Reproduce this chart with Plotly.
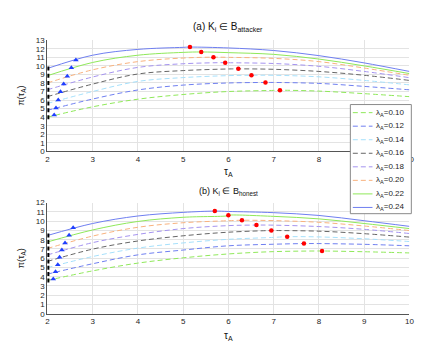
import plotly.graph_objects as go

W, H = 429, 350
_INK = "#262626"
_FONT = "Liberation Sans"

tau = [2, 3, 4, 5, 6, 7, 8, 9, 10]
lambdas = ["0.10", "0.12", "0.14", "0.16", "0.18", "0.20", "0.22", "0.24"]

# (a) K_i in B_attacker -- one list per lambda_A
top_010 = [4.00, 5.21, 6.10, 6.65, 7.00, 7.13, 7.05, 6.75, 6.40]
top_012 = [4.80, 6.12, 7.18, 7.75, 8.00, 8.06, 7.95, 7.60, 7.20]
top_014 = [5.60, 7.00, 8.18, 8.63, 8.86, 8.90, 8.72, 8.30, 7.78]
top_016 = [6.40, 7.87, 9.05, 9.45, 9.64, 9.60, 9.35, 8.90, 8.30]
top_018 = [7.20, 8.70, 9.82, 10.25, 10.37, 10.28, 9.95, 9.35, 8.62]
top_020 = [8.00, 9.54, 10.50, 10.92, 11.00, 10.88, 10.50, 9.75, 8.90]
top_022 = [8.85, 10.40, 11.25, 11.58, 11.55, 11.35, 10.80, 10.00, 9.10]
top_024 = [9.70, 11.25, 11.93, 12.17, 12.10, 11.80, 11.20, 10.35, 9.35]

top_sq_y = [4.0, 4.8, 5.6, 6.4, 7.2, 8.0, 8.85, 9.7]
top_tri_x = [2.15, 2.19, 2.24, 2.29, 2.36, 2.44, 2.53, 2.63]
top_tri_y = [4.24, 5.08, 6.02, 6.97, 7.88, 8.79, 9.77, 10.68]
top_max_x = [7.14, 6.82, 6.51, 6.22, 5.93, 5.67, 5.40, 5.15]
top_max_y = [7.15, 8.06, 8.90, 9.65, 10.38, 11.02, 11.63, 12.20]

# (b) K_i in B_honest
bot_010 = [3.60, 4.63, 5.47, 6.04, 6.46, 6.71, 6.78, 6.70, 6.57]
bot_012 = [4.28, 5.40, 6.36, 6.88, 7.34, 7.51, 7.58, 7.50, 7.34]
bot_014 = [4.98, 6.18, 7.09, 7.65, 8.04, 8.25, 8.30, 8.10, 7.80]
bot_016 = [5.65, 6.98, 7.86, 8.42, 8.81, 8.99, 8.92, 8.65, 8.28]
bot_018 = [6.35, 7.68, 8.57, 9.20, 9.52, 9.57, 9.42, 9.12, 8.67]
bot_020 = [7.05, 8.39, 9.34, 9.83, 10.05, 10.06, 9.88, 9.48, 8.99]
bot_022 = [7.75, 9.05, 9.97, 10.42, 10.60, 10.52, 10.25, 9.75, 9.20]
bot_024 = [8.45, 9.75, 10.56, 10.95, 11.05, 10.92, 10.62, 10.05, 9.44]

bot_sq_y = [3.6, 4.28, 4.98, 5.65, 6.35, 7.05, 7.75, 8.45]
bot_tri_x = [2.13, 2.18, 2.23, 2.27, 2.32, 2.39, 2.48, 2.57]
bot_tri_y = [3.75, 4.53, 5.30, 6.10, 6.88, 7.65, 8.49, 9.30]
bot_max_x = [8.07, 7.67, 7.30, 6.95, 6.62, 6.30, 6.00, 5.70]
bot_max_y = [6.78, 7.58, 8.32, 8.99, 9.58, 10.10, 10.63, 11.09]

top_curves = [top_010, top_012, top_014, top_016, top_018, top_020, top_022, top_024]
bot_curves = [bot_010, bot_012, bot_014, bot_016, bot_018, bot_020, bot_022, bot_024]

colors = ["#8fe85a", "#6f7ff0", "#a6e0fb", "#666666",
          "#a493ef", "#f8b27e", "#8fe85a", "#6f7ff0"]
dashes = ["5px,3px"] * 6 + ["solid", "solid"]


def px_x(p):
    return p / W


def px_y(p):
    return 1 - p / H


def _curve(ys, mx, my):
    # merge read-off grid with the maximum point so the curve passes through it
    pts = sorted(list(zip(tau, ys)) + [(mx, my)])
    return [p[0] for p in pts], [p[1] for p in pts]


fig = go.Figure()

panels = [
    ("x", "y", top_curves, top_sq_y, top_tri_x, top_tri_y, top_max_x, top_max_y),
    ("x2", "y2", bot_curves, bot_sq_y, bot_tri_x, bot_tri_y, bot_max_x, bot_max_y),
]
for xa, ya, curves, sq_y, tri_x, tri_y, mx, my in panels:
    for i, ys in enumerate(curves):
        cx, cy = _curve(ys, mx[i], my[i])
        fig.add_trace(go.Scatter(
            x=cx, y=cy, mode="lines", xaxis=xa, yaxis=ya,
            line=dict(color=colors[i], width=1, dash=dashes[i], shape="spline", smoothing=1.0),
            showlegend=False, hoverinfo="skip",
        ))
    fig.add_trace(go.Scatter(
        x=[2] * len(sq_y), y=sq_y, mode="markers", xaxis=xa, yaxis=ya,
        marker=dict(symbol="square", size=4, color="black"), showlegend=False,
    ))
    fig.add_trace(go.Scatter(
        x=tri_x, y=tri_y, mode="markers", xaxis=xa, yaxis=ya,
        marker=dict(symbol="triangle-up", size=5, color="#1f3fff"), showlegend=False,
    ))
    fig.add_trace(go.Scatter(
        x=mx, y=my, mode="markers", xaxis=xa, yaxis=ya,
        marker=dict(symbol="circle", size=4.5, color="#ff0000"), showlegend=False,
    ))

x_dom = [px_x(38), px_x(406)]
axis_common = dict(
    showgrid=True, gridcolor="#e3e3e3", gridwidth=1,
    showline=True, linecolor="#555555", linewidth=1, mirror=False,
    zeroline=False, ticks="", tickfont=dict(size=8, color=_INK, family=_FONT),
    dtick=1,
)

fig.update_layout(
    width=W, height=H,
    margin=dict(l=0, r=0, t=0, b=0),
    paper_bgcolor="white", plot_bgcolor="white",
    font=dict(family=_FONT, color=_INK),
    xaxis=dict(domain=x_dom, range=[2, 10], anchor="y", **axis_common),
    yaxis=dict(domain=[px_y(143), px_y(29)], range=[0, 13], anchor="x", **axis_common),
    xaxis2=dict(domain=x_dom, range=[2, 10], anchor="y2", **axis_common),
    yaxis2=dict(domain=[px_y(309.7), px_y(195.7)], range=[0, 12], anchor="x2", **axis_common),
)

annots = [
    ("(a) K<sub>i</sub> ∈ B<sub>attacker</sub>", 222, 15, 10, 0),
    ("(b) K<sub>i</sub> ∈ B<sub>honest</sub>", 222, 184, 9, 0),
    ("τ<sub>A</sub>", 222, 164, 10, 0),
    ("τ<sub>A</sub>", 222, 333, 10, 0),
    ("π(τ<sub>A</sub>)", 12, 86, 9, -90),
    ("π(τ<sub>A</sub>)", 12, 253, 9, -90),
]
for text, ax_, ay_, size, ang in annots:
    fig.add_annotation(
        text=text, x=px_x(ax_), y=px_y(ay_), xref="paper", yref="paper",
        showarrow=False, textangle=ang, xanchor="center", yanchor="middle",
        font=dict(size=size, color="#111111", family=_FONT),
    )

# legend box drawn by hand so entries sit as tight as in the reference
fig.add_shape(
    type="rect", xref="paper", yref="paper",
    x0=px_x(346), x1=px_x(408), y0=px_y(207), y1=px_y(95),
    line=dict(color="#8a8a8a", width=1), fillcolor="white", layer="above",
)
for i, lam in enumerate(lambdas):
    yc = 103.3 + 13.9 * i
    fig.add_shape(
        type="line", xref="paper", yref="paper",
        x0=px_x(348.5), x1=px_x(368.5), y0=px_y(yc), y1=px_y(yc),
        line=dict(color=colors[i], width=1, dash=dashes[i]), layer="above",
    )
    fig.add_annotation(
        text="λ<sub>A</sub>=" + lam, x=px_x(370.5), y=px_y(yc), xref="paper", yref="paper",
        showarrow=False, xanchor="left", yanchor="middle",
        font=dict(size=8, color=_INK, family=_FONT),
    )

fig.write_html("out.html")
